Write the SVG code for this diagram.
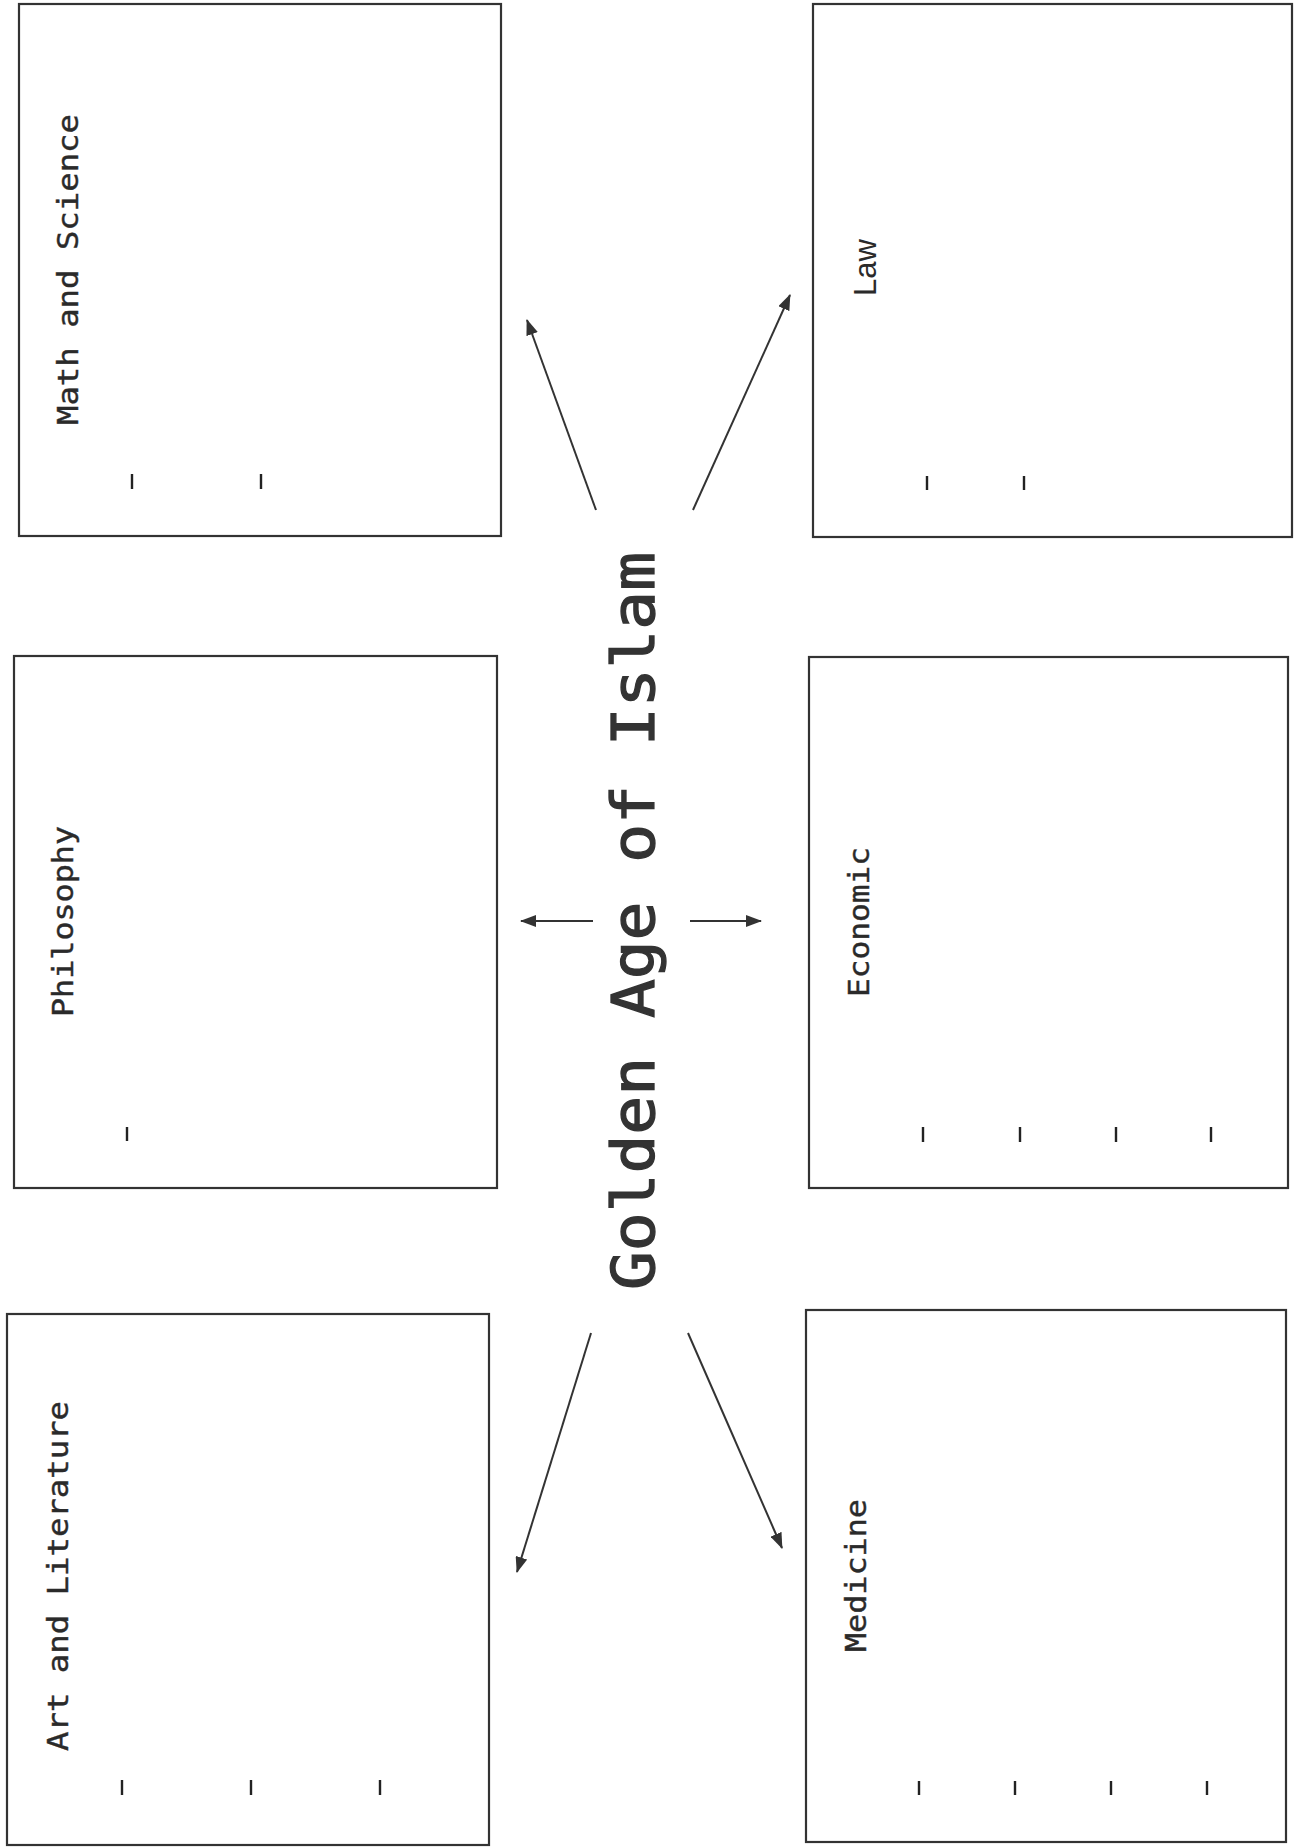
<svg xmlns="http://www.w3.org/2000/svg" width="1295" height="1848" viewBox="0 0 1295 1848">
<style>
.box{fill:none;stroke:#333;stroke-width:2.2}
.tick{stroke:#222;stroke-width:2.4}
.lbl{font-family:"DejaVu Sans Mono","Liberation Mono",monospace;font-size:29px;fill:#2a2a2a;stroke:#2a2a2a;stroke-width:0.4}
.lbls{font-family:"Liberation Sans",Arial,sans-serif;font-size:31px;fill:#2a2a2a}
.title{font-family:"DejaVu Sans Mono","Liberation Mono",monospace;font-size:59px;fill:#333;stroke:#333;stroke-width:1.3}
.conn{stroke:#333;stroke-width:2;fill:none}
</style>
<defs>
<marker id="ahl" markerWidth="16" markerHeight="12" refX="15" refY="6" orient="auto" markerUnits="userSpaceOnUse" viewBox="0 0 16 12">
<path d="M0,0 L16,6 L0,12 Z" fill="#333"/>
</marker>
</defs>
<rect width="1295" height="1848" fill="#fff"/>

<g id="title">
<text class="title" transform="translate(654,1290) rotate(-90)" textLength="738" lengthAdjust="spacingAndGlyphs">Golden Age of Islam</text>
</g>

<g id="node-math">
<rect class="box" x="19" y="4" width="482" height="532"/>
<text class="lbl" transform="translate(78,425) rotate(-90)" textLength="311" lengthAdjust="spacingAndGlyphs">Math and Science</text>
<line class="tick" x1="132" y1="474" x2="132" y2="489"/>
<line class="tick" x1="261" y1="474" x2="261" y2="489"/>
</g>

<g id="node-law">
<rect class="box" x="813" y="4" width="479" height="533"/>
<text class="lbls" transform="translate(876,296) rotate(-90)" textLength="57" lengthAdjust="spacingAndGlyphs">Law</text>
<line class="tick" x1="927" y1="476" x2="927" y2="490"/>
<line class="tick" x1="1024" y1="476" x2="1024" y2="490"/>
</g>

<g id="node-philosophy">
<rect class="box" x="14" y="656" width="483" height="532"/>
<text class="lbl" transform="translate(73,1017) rotate(-90)" textLength="191" lengthAdjust="spacingAndGlyphs">Philosophy</text>
<line class="tick" x1="127" y1="1127" x2="127" y2="1141"/>
</g>

<g id="node-economic">
<rect class="box" x="809" y="657" width="479" height="531"/>
<text class="lbl" transform="translate(869,997) rotate(-90)" textLength="150" lengthAdjust="spacingAndGlyphs">Economic</text>
<line class="tick" x1="923" y1="1127" x2="923" y2="1142"/>
<line class="tick" x1="1020" y1="1127" x2="1020" y2="1142"/>
<line class="tick" x1="1116" y1="1127" x2="1116" y2="1142"/>
<line class="tick" x1="1211" y1="1127" x2="1211" y2="1142"/>
</g>

<g id="node-art">
<rect class="box" x="7" y="1314" width="482" height="531"/>
<text class="lbl" transform="translate(68,1751) rotate(-90)" textLength="350" lengthAdjust="spacingAndGlyphs">Art and Literature</text>
<line class="tick" x1="122" y1="1780" x2="122" y2="1795"/>
<line class="tick" x1="251" y1="1780" x2="251" y2="1795"/>
<line class="tick" x1="380" y1="1780" x2="380" y2="1795"/>
</g>

<g id="node-medicine">
<rect class="box" x="806" y="1310" width="480" height="532"/>
<text class="lbl" transform="translate(866,1652) rotate(-90)" textLength="153" lengthAdjust="spacingAndGlyphs">Medicine</text>
<line class="tick" x1="919" y1="1781" x2="919" y2="1795"/>
<line class="tick" x1="1015" y1="1781" x2="1015" y2="1795"/>
<line class="tick" x1="1111" y1="1781" x2="1111" y2="1795"/>
<line class="tick" x1="1207" y1="1781" x2="1207" y2="1795"/>
</g>

<g id="connectors">
<line class="conn" x1="596" y1="510" x2="527" y2="320" marker-end="url(#ahl)"/>
<line class="conn" x1="693" y1="510" x2="790" y2="295" marker-end="url(#ahl)"/>
<line class="conn" x1="593" y1="921" x2="521" y2="921" marker-end="url(#ahl)"/>
<line class="conn" x1="690" y1="921" x2="761" y2="921" marker-end="url(#ahl)"/>
<line class="conn" x1="591" y1="1333" x2="517" y2="1572" marker-end="url(#ahl)"/>
<line class="conn" x1="688" y1="1333" x2="782" y2="1548" marker-end="url(#ahl)"/>
</g>
</svg>
